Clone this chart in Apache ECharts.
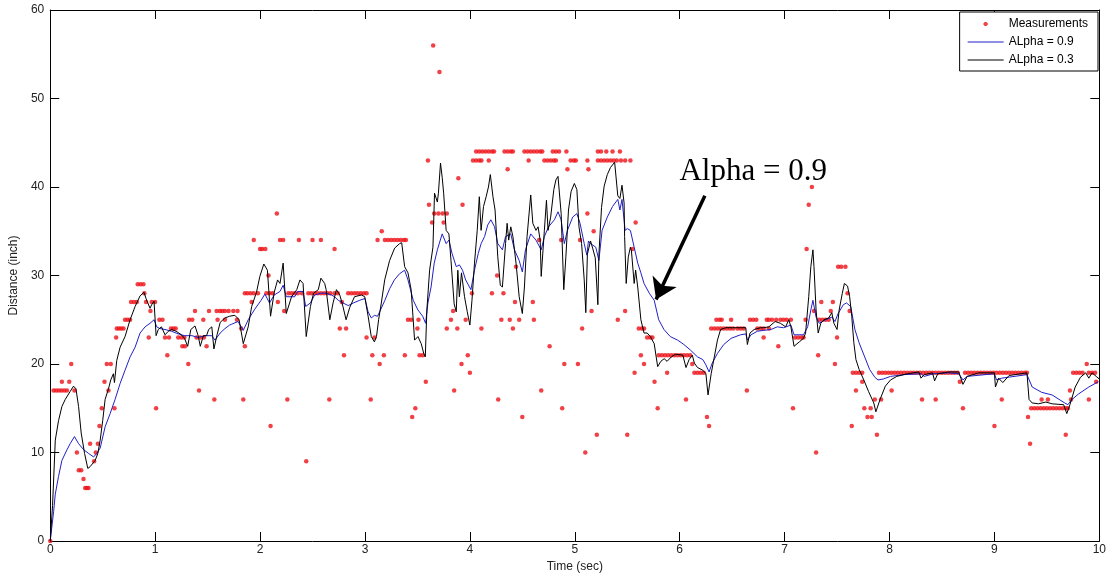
<!DOCTYPE html>
<html>
<head>
<meta charset="utf-8">
<script src="https://cdn.jsdelivr.net/npm/echarts@6/dist/echarts.min.js"></script>
<style>
html,body{margin:0;padding:0;background:#fff;}
#chart{width:1109px;height:579px;}
</style>
</head>
<body>
<div id="chart"></div>
<script>
// ---- data ----
const xTicks = [0,1,2,3,4,5,6,7,8,9,10];
const yTicks = [0,10,20,30,40,50,60];

const measurements = [
[0,0],[0.032,17],[0.057,17],[0.083,17],[0.108,17],[0.134,17],[0.159,17],[0.231,17],[0.111,18],[0.181,18],[0.2,20],[0.254,10],[0.272,8],[0.295,8],[0.317,7],[0.333,6],[0.349,6],[0.365,6],[0.38,11],[0.418,9],[0.434,10],[0.454,11],[0.469,13],[0.491,15],[0.517,18],[0.539,20],[0.555,17],[0.577,20],[0.612,15],[0.628,23],[0.634,24],[0.655,24],[0.676,24],[0.698,24],[0.713,25],[0.737,25],[0.761,25],[0.77,27],[0.797,27],[0.825,27],[0.834,29],[0.861,29],[0.888,29],[0.897,28],[0.913,27],[0.939,23],[0.955,26],[0.967,27],[0.999,27],[1.009,15],[1.04,25],[1.07,25],[1.094,23],[1.116,21],[1.132,23],[1.151,24],[1.174,24],[1.196,24],[1.22,23],[1.25,23],[1.278,23],[1.259,22],[1.284,22],[1.316,20],[1.323,25],[1.354,25],[1.38,26],[1.395,23],[1.418,17],[1.43,23],[1.459,25],[1.465,23],[1.49,22],[1.513,26],[1.564,16],[1.586,26],[1.595,25],[1.617,26],[1.64,26],[1.665,26],[1.665,25],[1.70,26],[1.745,26],[1.785,26],[1.78,25],[1.82,24],[1.84,16],[1.855,22],[1.855,28],[1.88,28],[1.91,28],[1.92,27],[1.94,34],[1.94,28],[1.98,28],[2.0,33],[2.02,33],[2.05,33],[2.06,28],[2.08,30],[2.09,28],[2.10,13],[2.12,28],[2.16,37],[2.17,27],[2.19,34],[2.22,34],[2.23,26],[2.26,16],[2.27,28],[2.30,28],[2.33,28],[2.36,28],[2.37,34],[2.40,28],[2.44,9],[2.46,28],[2.49,28],[2.50,34],[2.52,28],[2.55,28],[2.58,28],[2.58,34],[2.61,28],[2.64,28],[2.66,16],[2.67,28],[2.71,28],[2.71,33],[2.74,28],[2.76,24],[2.78,27],[2.80,21],[2.82,24],[2.84,28],[2.87,28],[2.90,28],[2.93,28],[2.96,28],[2.99,28],[3.015,28],[3.015,23],[3.055,16],[3.07,21],[3.09,23],[3.12,34],[3.14,20],[3.16,35],[3.18,21],[3.19,34],[3.22,34],[3.25,34],[3.28,34],[3.31,34],[3.34,34],[3.37,34],[3.39,34],[3.38,21],[3.41,25],
[3.44,25],[3.45,14],[3.48,15],[3.50,24],[3.51,25],[3.52,21],[3.55,21],[3.58,18],[3.60,43],[3.61,38],[3.64,36],[3.65,56],[3.66,37],[3.70,37],[3.71,53],[3.74,37],[3.75,36],[3.78,37],[3.78,24],[3.82,25],[3.84,26],[3.85,17],[3.88,24],[3.89,41],[3.92,20],[3.93,38],[3.96,25],[3.98,21],[4.00,19],[4.02,28],[4.03,43],[4.06,43],[4.06,44],[4.09,43],[4.09,44],[4.11,43],[4.11,24],[4.12,44],[4.15,44],[4.18,44],[4.18,43],[4.21,44],[4.21,28],[4.23,44],[4.26,30],[4.27,16],[4.30,25],[4.32,28],[4.33,44],[4.36,44],[4.36,42],[4.38,25],[4.39,44],[4.41,44],[4.41,24],[4.43,27],[4.44,31],[4.47,25],[4.50,14],[4.52,44],[4.55,44],[4.56,43],[4.58,44],[4.60,27],[4.61,44],[4.61,25],[4.64,44],[4.66,34],[4.67,44],[4.68,17],[4.69,44],[4.71,43],[4.74,43],[4.76,22],[4.77,43],[4.79,44],[4.80,43],[4.82,44],[4.82,43],[4.85,44],[4.87,34],[4.88,15],[4.90,20],[4.92,44],[4.93,42],[4.96,43],[4.99,43],[5.01,43],[5.03,20],[5.05,34],[5.07,24],[5.10,10],[5.12,43],[5.12,37],[5.13,42],[5.16,26],[5.18,35],[5.21,12],[5.22,44],[5.22,43],[5.25,44],[5.25,43],[5.28,43],[5.30,44],[5.31,43],[5.34,43],[5.36,44],[5.37,43],[5.40,43],[5.41,25],[5.43,44],[5.44,43],[5.48,43],[5.48,26],[5.50,12],[5.53,43],[5.55,33],[5.57,19],[5.58,36],[5.61,24],[5.63,21],[5.64,24],[5.66,24],[5.66,20],[5.69,23],[5.72,23],[5.74,23],[5.76,18],[5.79,15],[5.80,21],[5.83,21],[5.86,21],[5.88,19],[5.89,21],[5.92,21],[5.95,21],[5.98,21],[6.01,21],[6.04,21],[6.06,16],[6.07,21],[6.10,21],[6.12,20],[6.14,19],[6.17,19],[6.20,19],[6.23,19],[6.26,14],[6.28,13],[6.30,24],[6.33,24],[6.35,25],[6.36,24],[6.38,25],[6.39,24],[6.40,25],[6.42,24],[6.45,24],[6.48,24],[6.49,25],[6.51,24],[6.55,24],[6.58,24],[6.61,24],[6.64,17],[6.67,25],[6.70,25],[6.73,25],[6.74,24],[6.77,24],[6.80,24],[6.80,23],[6.83,25],[6.85,24],[6.85,25],[6.88,25],[6.92,25],[6.94,22],[6.96,25],[6.99,25],[7.02,25],[7.06,25],[7.08,15],[7.10,23],[7.13,23],[7.16,23],[7.18,23],[7.20,25],[7.21,33],[7.23,38],[7.26,40],[7.28,26],[7.30,10],[7.32,21],[7.33,25],[7.35,27],[7.36,25],[7.39,25],[7.42,25],[7.44,26],[7.46,27],[7.48,20],[7.50,23],[7.51,31],[7.54,31],[7.58,31],[7.60,28],[7.62,26],[7.64,13],[7.65,19],[7.68,19],[7.68,17],[7.71,19],[7.74,19],[7.74,18],[7.76,15],[7.79,14],[7.82,15],[7.83,14],[7.86,16],[7.88,12],[7.92,16],
[7.90,19],[7.93,19],[7.96,19],[7.99,19],[8.02,19],[8.05,19],[8.08,19],[8.11,19],[8.14,19],[8.17,19],[8.20,19],[8.23,19],[8.26,19],[8.29,19],[8.32,19],[8.35,19],[8.38,19],[8.41,19],[8.44,19],[8.47,19],[8.50,19],[8.53,19],[8.56,19],[8.59,19],[8.62,19],[8.65,19],
[8.02,17],[8.31,16],[8.44,16],[8.67,18],[8.70,15],[9.00,13],[9.07,16],
[8.72,19],[8.75,19],[8.78,19],[8.81,19],[8.84,19],[8.87,19],[8.90,19],[8.93,19],[8.96,19],[8.99,19],[9.02,19],[9.05,19],[9.08,19],[9.11,19],[9.14,19],[9.17,19],[9.20,19],[9.23,19],[9.26,19],[9.29,19],[9.31,19],
[9.32,14],[9.34,11],
[9.35,15],[9.38,15],[9.41,15],[9.44,15],[9.47,15],[9.50,15],[9.53,15],[9.56,15],[9.59,15],[9.62,15],[9.65,15],[9.68,15],[9.70,15],
[9.45,16],[9.51,16],[9.68,12],[9.72,17],[9.73,16],[9.75,19],[9.78,19],[9.81,19],[9.84,19],[9.88,20],[9.90,16],[9.90,19],[9.93,19],[9.96,19],[9.97,18]
];

const alpha09 = [
[0,0],[0.032,3.3],[0.048,5.3],[0.079,7.3],[0.111,9.1],[0.159,10.3],[0.19,11],[0.231,11.8],[0.27,11],[0.32,10.3],[0.365,9.9],[0.413,9.5],[0.444,9.9],[0.476,10.5],[0.523,12.9],[0.571,14.4],[0.618,16.0],[0.666,17.8],[0.713,19.3],[0.761,20.8],[0.809,21.9],[0.856,23.5],[0.904,24.2],[0.951,24.6],[0.99,25.0],[1.015,24.2],[1.046,24.0],[1.094,23.9],[1.157,23.7],[1.22,23.4],[1.28,23.2],[1.35,23.2],[1.41,23.0],[1.475,23.2],[1.54,23.2],[1.57,22.7],[1.62,23.5],[1.665,24.0],[1.71,24.4],[1.73,24.5],[1.79,24.8],[1.84,23.8],[1.887,25.0],[1.95,26.2],[2.01,27.2],[2.046,27.9],[2.09,26.9],[2.135,27.8],[2.19,28.2],[2.22,28.9],[2.25,27.6],[2.33,27.6],[2.36,28.2],[2.41,28.2],[2.435,26.5],[2.48,26.9],[2.52,27.8],[2.58,28.0],[2.63,28.0],[2.68,27.8],[2.71,27.6],[2.745,27.2],[2.79,26.9],[2.84,26.6],[2.89,26.9],[2.95,27.2],[3.0,27.4],[3.03,25.9],[3.06,25.2],[3.09,25.5],[3.12,25.4],[3.14,25.9],[3.19,27.2],[3.235,28.5],[3.28,29.5],[3.33,30.2],[3.378,30.6],[3.41,29.5],[3.46,27.2],[3.505,26.1],[3.55,25.4],[3.578,24.6],[3.60,26.9],[3.63,28.7],[3.66,31.4],[3.69,32.9],[3.736,34.7],[3.774,33.6],[3.80,34.0],[3.83,32.5],[3.87,31.0],[3.90,31.2],[3.93,30.6],[3.96,29.5],[4.01,28.4],[4.044,30.6],[4.08,32.5],[4.107,33.6],[4.14,34.4],[4.17,35.7],[4.20,36.3],[4.235,35.5],[4.266,33.6],[4.31,32.9],[4.34,34.4],[4.39,34.7],[4.425,32.9],[4.47,31.7],[4.50,30.4],[4.53,32.9],[4.58,34.7],[4.63,34.0],[4.68,32.9],[4.71,34.4],[4.75,35.5],[4.806,36.3],[4.84,37.2],[4.87,36.3],[4.90,33.6],[4.93,35.1],[4.98,36.6],[5.02,37.0],[5.05,35.9],[5.09,33.6],[5.115,32.3],[5.13,33.9],[5.15,33.6],[5.20,33.2],[5.23,31.7],[5.26,35.1],[5.31,36.6],[5.36,37.8],[5.41,38.6],[5.43,37.4],[5.45,38.6],[5.48,35.1],[5.50,35.3],[5.53,35.1],[5.566,33.2],[5.60,31.4],[5.63,30.3],[5.66,29.1],[5.71,28.0],[5.757,27.2],[5.80,25.0],[5.85,23.9],[5.91,23.1],[5.98,22.7],[6.04,22.2],[6.10,21.6],[6.17,20.8],[6.22,20.5],[6.25,19.9],[6.28,19.1],[6.31,20.1],[6.36,21.2],[6.42,22.2],[6.49,22.9],[6.58,23.3],[6.63,23.4],[6.645,22.7],[6.68,23.3],[6.74,23.7],[6.80,23.8],[6.87,23.9],[6.93,24.2],[6.99,24.1],[7.06,24.4],[7.09,23.3],[7.18,23.3],[7.22,24.2],[7.25,26.1],[7.27,27.2],[7.30,25.3],[7.33,24.6],[7.39,25.0],[7.45,25.3],[7.48,24.8],[7.51,25.7],[7.56,26.7],[7.59,26.9],[7.63,26.5],[7.67,23.9],[7.71,22.4],[7.76,20.9],[7.81,19.4],[7.86,18.5],[7.89,18.2],[7.94,18.3],[8.01,18.6],[8.14,18.8],[8.30,18.9],[8.33,18.6],[8.42,18.9],[8.565,19.0],[8.66,18.9],[8.70,18.2],[8.74,18.6],[9.0,18.9],[9.02,18.2],[9.07,18.4],[9.31,18.8],[9.36,17.4],[9.45,16.8],[9.55,16.5],[9.67,15.6],[9.70,15.4],[9.74,16.0],[9.80,16.6],[9.90,17.4],[9.99,18.0]
];

const alpha03 = [
[0,0],[0.022,4],[0.048,11.4],[0.079,13.6],[0.111,15.2],[0.143,16],[0.19,16.9],[0.222,17.5],[0.245,17.2],[0.27,15.2],[0.295,12.2],[0.327,9.9],[0.358,8.2],[0.38,8.4],[0.396,8.2],[0.428,9.1],[0.454,9.9],[0.476,11.4],[0.5,13.6],[0.523,16],[0.555,17.2],[0.577,18.2],[0.602,18.9],[0.612,17.9],[0.634,20.4],[0.666,21.9],[0.713,23.1],[0.761,25],[0.809,26.5],[0.856,27.7],[0.894,28.1],[0.913,27.4],[0.951,26.3],[0.967,26.7],[0.989,27.1],[1.009,23.2],[1.03,23.9],[1.06,24.2],[1.094,23.3],[1.126,23.7],[1.157,23.9],[1.2,23.7],[1.25,23.3],[1.28,22.9],[1.31,22.0],[1.34,23.9],[1.38,24.3],[1.41,23.2],[1.43,22],[1.46,23.2],[1.49,23.2],[1.51,23.9],[1.54,24.2],[1.56,21.7],[1.59,23.3],[1.62,24.7],[1.665,25.2],[1.71,25.4],[1.76,25.5],[1.80,25],[1.84,22.3],[1.855,22.3],[1.887,24.2],[1.92,26.5],[1.966,28.1],[1.998,29.9],[2.036,31.3],[2.07,30.6],[2.10,25.4],[2.135,28.1],[2.167,29.5],[2.19,29.1],[2.22,31.4],[2.25,25.7],[2.30,27.6],[2.35,28.4],[2.38,29.5],[2.41,29.1],[2.44,23.1],[2.48,26.5],[2.51,28.0],[2.555,28.4],[2.58,29.7],[2.616,29.1],[2.63,28.4],[2.665,25],[2.696,26.9],[2.728,28.4],[2.76,27.8],[2.79,26.5],[2.82,25],[2.855,26.4],[2.90,27.6],[2.966,27.8],[2.998,27.6],[3.03,25.4],[3.06,23.1],[3.09,22.5],[3.11,23.1],[3.13,25.0],[3.156,26.9],[3.188,29.5],[3.235,31.7],[3.283,33.1],[3.33,33.6],[3.35,33.7],[3.378,31.0],[3.41,30.3],[3.44,28.4],[3.473,22.7],[3.505,23.1],[3.536,22.3],[3.56,21.2],[3.575,20.8],[3.59,26.1],[3.616,30.6],[3.648,33.2],[3.663,39.3],[3.69,38.3],[3.70,39.3],[3.72,42.7],[3.736,41.1],[3.75,39.3],[3.774,35.1],[3.80,34.7],[3.82,31.7],[3.85,26.8],[3.87,25.9],[3.885,30.6],[3.90,27.6],[3.92,30.3],[3.949,27.6],[3.975,25.9],[4.0,24.4],[4.02,27.2],[4.044,31.4],[4.07,35.1],[4.09,38.9],[4.107,35.1],[4.13,37.8],[4.155,38.9],[4.177,40.0],[4.195,41.4],[4.22,38.9],[4.24,37.4],[4.266,32.1],[4.29,28.9],[4.31,28.7],[4.34,33.6],[4.355,35.9],[4.37,34.0],[4.39,35.5],[4.41,34.4],[4.44,31.4],[4.47,27.6],[4.50,25.7],[4.52,28.7],[4.545,34.4],[4.58,39.1],[4.60,35.9],[4.63,35.1],[4.65,35.5],[4.67,34.0],[4.68,29.9],[4.71,35.1],[4.73,38.5],[4.745,35.1],[4.77,36.6],[4.80,39.7],[4.82,40.8],[4.84,41.2],[4.87,37.0],[4.895,28.4],[4.915,32.1],[4.94,37.4],[4.965,39.5],[4.996,40.4],[5.02,39.7],[5.04,35.5],[5.065,33.6],[5.09,29.5],[5.105,25.8],[5.12,32.4],[5.15,33.9],[5.17,33.1],[5.195,32.0],[5.22,26.7],[5.23,32.4],[5.255,37.7],[5.28,40.1],[5.31,41.4],[5.34,42.2],[5.38,42.8],[5.395,42.6],[5.41,39.0],[5.43,38.7],[5.45,40.2],[5.47,38.2],[5.475,34.4],[5.49,29.1],[5.51,32.1],[5.53,33.2],[5.54,32.8],[5.566,29.1],[5.58,30.6],[5.60,28.7],[5.63,25.0],[5.66,23.5],[5.69,23.5],[5.72,23.1],[5.757,22.3],[5.79,19.7],[5.82,20.3],[5.852,20.6],[5.88,20.3],[5.92,20.8],[5.96,21.1],[6.03,21.0],[6.06,19.6],[6.09,20.5],[6.12,21.0],[6.14,20.1],[6.17,19.6],[6.22,19.3],[6.25,18.9],[6.27,16.5],[6.30,18.9],[6.33,20.8],[6.36,22.7],[6.39,23.9],[6.44,24.1],[6.50,24.1],[6.58,24.1],[6.63,24.1],[6.645,22.2],[6.67,23.5],[6.71,23.9],[6.77,24.1],[6.80,24.1],[6.85,24.2],[6.91,24.8],[6.96,24.6],[7.01,24.2],[7.04,25.0],[7.06,24.2],[7.09,22.0],[7.14,22.5],[7.18,22.9],[7.20,23.5],[7.23,27.6],[7.25,31.0],[7.27,32.9],[7.28,31.0],[7.30,26.1],[7.32,23.5],[7.345,24.6],[7.375,25.0],[7.42,25.2],[7.45,25.8],[7.47,24.6],[7.50,23.9],[7.52,26.1],[7.55,28.0],[7.57,29.1],[7.60,28.8],[7.62,27.6],[7.64,25.4],[7.66,22.4],[7.68,20.5],[7.71,19.4],[7.755,18.2],[7.80,16.9],[7.85,15.6],[7.87,14.6],[7.91,16.0],[7.96,17.5],[8.01,18.2],[8.07,18.6],[8.17,18.9],[8.28,19.1],[8.30,18.4],[8.33,18.8],[8.41,19.0],[8.43,18.1],[8.46,18.9],[8.565,19.1],[8.66,19.1],[8.70,17.7],[8.74,18.6],[8.85,19.0],[9.0,19.0],[9.01,17.4],[9.04,18.4],[9.08,17.9],[9.14,18.7],[9.31,19.0],[9.33,16.0],[9.36,15.6],[9.42,15.5],[9.49,15.7],[9.55,15.5],[9.66,15.4],[9.69,14.4],[9.72,15.4],[9.77,17.4],[9.82,18.5],[9.87,19.0],[9.90,18.4],[9.93,19.0],[9.97,18.6],[10.0,18.3]
];

const annotationText = 'Alpha = 0.9';
const arrowFrom = [6.24, 39.0];
const arrowTo = [5.775, 27.3];
const annotationAt = [6.70, 41.7];

// ---- chart ----
const chart = echarts.init(document.getElementById('chart'));
const font = '"Liberation Sans", Arial, sans-serif';
const lineIcon = 'path://M0,0M36,10M0,4.5L36,4.5L36,5.6L0,5.6Z';
const axisCommon = {
  type: 'value',
  axisLine: { show: true, onZero: false, lineStyle: { color: '#000', width: 1 } },
  axisTick: { show: true, inside: true, length: 9, lineStyle: { color: '#000' } },
  splitLine: { show: false }
};
chart.setOption({
  animation: false,
  backgroundColor: '#fff',
  grid: { left: 50, right: 8, top: 10, bottom: 38, containLabel: false },
  legend: {
    orient: 'vertical',
    right: 11, top: 12,
    itemWidth: 36, itemHeight: 10, itemGap: 6,
    padding: [6, 10, 5, 8],
    borderColor: '#000', borderWidth: 1, backgroundColor: '#fff', borderRadius: 0,
    textStyle: { fontFamily: font, fontSize: 12, color: '#000' },
    data: [
      { name: 'Measurements', icon: 'path://M0,0M36,10M17,3L19,3L20.5,5L19,7L17,7L15.5,5Z' },
      { name: 'ALpha = 0.9', icon: lineIcon },
      { name: 'ALpha = 0.3', icon: lineIcon }
    ]
  },
  xAxis: [
    Object.assign({}, axisCommon, {
      min: xTicks[0], max: xTicks[xTicks.length - 1], interval: 1, position: 'bottom',
      name: 'Time (sec)', nameLocation: 'middle', nameGap: 20,
      nameTextStyle: { fontFamily: font, fontSize: 12, color: '#222' },
      axisLabel: { fontFamily: font, fontSize: 12, color: '#222', margin: 3 }
    }),
    Object.assign({}, axisCommon, {
      min: xTicks[0], max: xTicks[xTicks.length - 1], interval: 1, position: 'top',
      axisLabel: { show: false }
    })
  ],
  yAxis: [
    Object.assign({}, axisCommon, {
      min: yTicks[0], max: yTicks[yTicks.length - 1], interval: 10, position: 'left',
      name: 'Distance (inch)', nameLocation: 'middle', nameGap: 28,
      nameTextStyle: { fontFamily: font, fontSize: 12, color: '#222' },
      axisLabel: { fontFamily: font, fontSize: 12, color: '#222', margin: 6 }
    }),
    Object.assign({}, axisCommon, {
      min: yTicks[0], max: yTicks[yTicks.length - 1], interval: 10, position: 'right',
      axisLabel: { show: false }
    })
  ],
  series: [
    {
      name: 'Measurements', type: 'scatter', data: measurements,
      symbol: 'circle', symbolSize: 4.5,
      itemStyle: { color: '#ee1118' },
      z: 2
    },
    {
      name: 'ALpha = 0.9', type: 'line', data: alpha09,
      symbol: 'none', lineStyle: { color: '#2020c8', width: 1 },
      itemStyle: { color: '#2020c8' },
      z: 3
    },
    {
      name: 'ALpha = 0.3', type: 'line', data: alpha03,
      symbol: 'none', lineStyle: { color: '#000', width: 1 },
      itemStyle: { color: '#000' },
      z: 4,
      markLine: {
        silent: true, animation: false,
        symbol: ['none', 'arrow'], symbolSize: 20,
        lineStyle: { color: '#000', width: 3.5, type: 'solid' },
        itemStyle: { color: '#000' },
        label: { show: false },
        data: [[{ coord: arrowFrom, symbol: 'none' }, { coord: arrowTo, symbol: 'arrow', symbolSize: 20 }]]
      },
      markPoint: {
        silent: true, animation: false,
        symbol: 'circle', symbolSize: 1,
        itemStyle: { color: 'rgba(0,0,0,0)' },
        label: {
          show: true, position: 'inside', formatter: annotationText,
          fontFamily: '"Liberation Serif", "Times New Roman", serif',
          fontSize: 31, color: '#000'
        },
        data: [{ coord: annotationAt }]
      }
    }
  ]
});
</script>
</body>
</html>
